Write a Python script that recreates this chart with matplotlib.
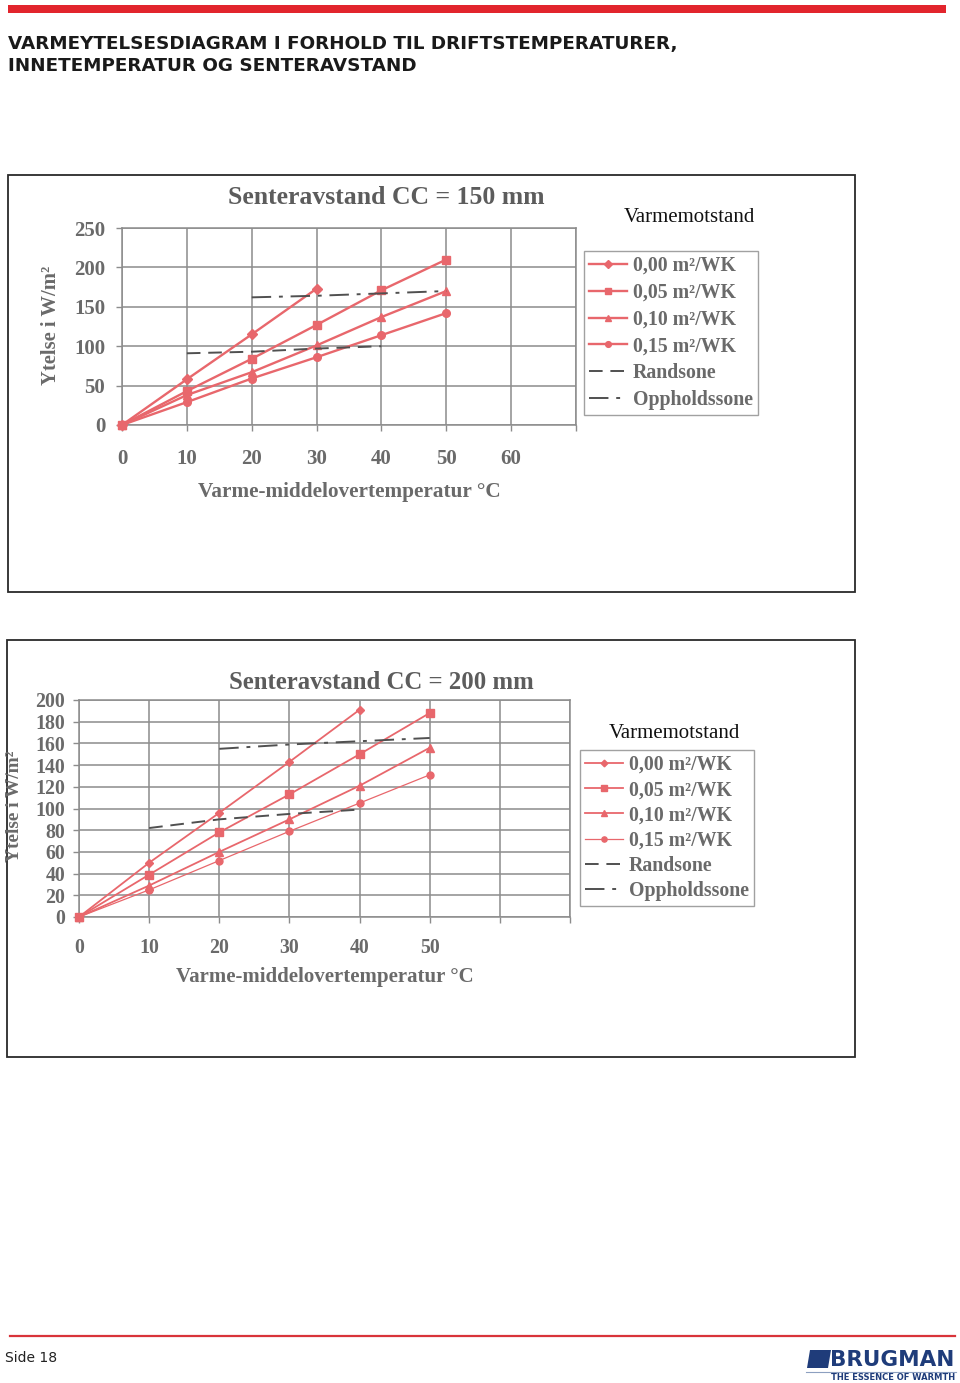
import matplotlib
matplotlib.use('Agg')
import matplotlib.pyplot as plt
from matplotlib.patches import Rectangle, Polygon
from matplotlib.lines import Line2D

plt.rcParams['font.family'] = ['Liberation Serif', 'DejaVu Serif']

W, H = 960, 1383

# ---------------- data ----------------
temps = [0, 10, 20, 30, 40, 50]
x_ticks = [0, 10, 20, 30, 40, 50, 60, 70]
rand_x = [10, 20, 30, 40]
opph_x = [20, 30, 40, 50]
legend_labels = ['0,00 m²/WK', '0,05 m²/WK', '0,10 m²/WK', '0,15 m²/WK',
                 'Randsone', 'Oppholdssone']

cc150_r000 = [0, 58, 115, 173]
cc150_r005 = [0, 43, 84, 127, 171, 210]
cc150_r010 = [0, 38, 67, 101, 137, 170]
cc150_r015 = [0, 29, 59, 86, 114, 142]
cc150_rand = [91, 93, 97, 100]
cc150_opph = [162, 164, 167, 170]
cc150_yticks = [0, 50, 100, 150, 200, 250]
cc150_xlabels = ['0', '10', '20', '30', '40', '50', '60', '']

cc200_r000 = [0, 50, 96, 143, 191]
cc200_r005 = [0, 39, 78, 113, 150, 188]
cc200_r010 = [0, 29, 60, 90, 121, 156]
cc200_r015 = [0, 25, 52, 79, 105, 131]
cc200_rand = [82, 90, 95, 99]
cc200_opph = [155, 159, 162, 165]
cc200_yticks = [0, 20, 40, 60, 80, 100, 120, 140, 160, 180, 200]
cc200_xlabels = ['0', '10', '20', '30', '40', '50', '', '']

RED = '#E8676C'
GRID = '#8C8C8C'
TXT = '#6A6A6A'
TTL = '#5C5C5C'
DARK = '#505050'


def fx(px):
    return px / W


def fy(py):
    return 1 - py / H


def rect(l, t, r, b):
    return [fx(l), fy(b), (r - l) / W, (b - t) / H]


fig = plt.figure(figsize=(W / 100, H / 100), dpi=100)

# header band / title
fig.patches.append(Rectangle((fx(8), fy(13)), (946 - 8) / W, 8 / H,
                             transform=fig.transFigure, facecolor='#E2252D',
                             edgecolor='none'))
fig.text(fx(8), fy(44), 'VARMEYTELSESDIAGRAM I FORHOLD TIL DRIFTSTEMPERATURER,',
         family=['DejaVu Sans'], weight='bold', fontsize=13.2, color='#1a1a1a',
         va='center', ha='left')
fig.text(fx(8), fy(66), 'INNETEMPERATUR OG SENTERAVSTAND',
         family=['DejaVu Sans'], weight='bold', fontsize=13.2, color='#1a1a1a',
         va='center', ha='left')


def draw_chart(frame, axbox, ymax, yticks, xlabels, series, rand, opph,
               title, title_xy, title_fs, ylab_xy, ylab_fs, xlab_xy, xlab_fs,
               tick_fs, xpad, ypad, leg_anchor, leg_title_xy, lws, msz,
               rand_dash, opph_dash, labelspacing):
    l, t, r, b = frame
    fig.patches.append(Rectangle((fx(l), fy(b)), (r - l) / W, (b - t) / H,
                                 transform=fig.transFigure, facecolor='none',
                                 edgecolor='#2a2a2a', linewidth=1.3))
    ax = fig.add_axes(rect(*axbox))
    ax.set_xlim(0, 70)
    ax.set_ylim(0, ymax)
    ax.set_xticks(x_ticks)
    ax.set_xticklabels(xlabels)
    ax.set_yticks(yticks)
    ax.grid(True, color=GRID, linewidth=1.1)
    ax.set_axisbelow(True)
    for s in ax.spines.values():
        s.set_color(GRID)
        s.set_linewidth(1.1)
    ax.tick_params(direction='out', length=4, width=1.0, color=GRID,
                   labelsize=tick_fs, labelcolor=TXT)
    ax.tick_params(axis='x', pad=xpad)
    ax.tick_params(axis='y', pad=ypad)
    for lab in ax.get_xticklabels() + ax.get_yticklabels():
        lab.set_fontweight('bold')

    markers = ['D', 's', '^', 'o']
    handles = []
    for vals, mk, lw, ms in zip(series, markers, lws, msz):
        h, = ax.plot(temps[:len(vals)], vals, color=RED, linewidth=lw,
                     marker=mk, markersize=ms, markerfacecolor=RED,
                     markeredgecolor=RED, clip_on=False, zorder=3)
        handles.append(h)
    h, = ax.plot(rand_x, rand, color=DARK, linewidth=1.4, zorder=4)
    h.set_dashes(rand_dash)
    handles.append(h)
    h, = ax.plot(opph_x, opph, color=DARK, linewidth=1.4, zorder=4)
    h.set_dashes(opph_dash)
    handles.append(h)

    fig.text(fx(title_xy[0]), fy(title_xy[1]), title, fontsize=title_fs,
             weight='bold', color=TTL, ha='center', va='center')
    fig.text(fx(ylab_xy[0]), fy(ylab_xy[1]), 'Ytelse i W/m²', fontsize=ylab_fs,
             weight='bold', color=TXT, ha='center', va='center', rotation=90)
    fig.text(fx(xlab_xy[0]), fy(xlab_xy[1]), 'Varme-middelovertemperatur °C',
             fontsize=xlab_fs, weight='bold', color=TXT, ha='center',
             va='center')
    fig.text(fx(leg_title_xy[0]), fy(leg_title_xy[1]), 'Varmemotstand',
             fontsize=15, color='#111111', ha='center', va='center')
    leg = ax.legend(handles, legend_labels, loc='upper left',
                    bbox_to_anchor=(fx(leg_anchor[0]), fy(leg_anchor[1])),
                    bbox_transform=fig.transFigure, borderaxespad=0,
                    frameon=True, fancybox=False, handlelength=1.9,
                    handletextpad=0.3, borderpad=0.25,
                    labelspacing=labelspacing, markerscale=0.75,
                    prop={'weight': 'bold', 'size': 14.3}, labelcolor=TXT)
    leg.get_frame().set_edgecolor('#8a8a8a')
    leg.get_frame().set_linewidth(1.0)
    return ax


draw_chart(frame=(8, 175, 855, 592), axbox=(122, 228, 576, 425), ymax=250,
           yticks=cc150_yticks, xlabels=cc150_xlabels,
           series=[cc150_r000, cc150_r005, cc150_r010, cc150_r015],
           rand=cc150_rand, opph=cc150_opph,
           title='Senteravstand CC = 150 mm', title_xy=(386, 198), title_fs=18.5,
           ylab_xy=(51, 325), ylab_fs=14.9, xlab_xy=(349, 492), xlab_fs=15.3,
           tick_fs=15, xpad=13, ypad=8, leg_anchor=(584, 251),
           leg_title_xy=(689, 218), lws=[1.7, 1.7, 1.7, 1.7],
           msz=[5, 5.5, 6, 5.5], rand_dash=(7, 4), opph_dash=(10, 4, 2, 4),
           labelspacing=0.34)

draw_chart(frame=(7, 640, 855, 1057), axbox=(79, 700, 570, 917), ymax=200,
           yticks=cc200_yticks, xlabels=cc200_xlabels,
           series=[cc200_r000, cc200_r005, cc200_r010, cc200_r015],
           rand=cc200_rand, opph=cc200_opph,
           title='Senteravstand CC = 200 mm', title_xy=(381, 682), title_fs=17.8,
           ylab_xy=(15, 806), ylab_fs=13.9, xlab_xy=(325, 977), xlab_fs=15,
           tick_fs=14.3, xpad=11, ypad=6, leg_anchor=(580, 750),
           leg_title_xy=(674, 734), lws=[1.3, 1.3, 1.3, 0.9],
           msz=[4.5, 5.5, 5.5, 5], rand_dash=(7, 4), opph_dash=(10, 4, 2, 4),
           labelspacing=0.26)

# footer
fig.add_artist(Line2D([fx(10), fx(955)], [fy(1336), fy(1336)],
                      transform=fig.transFigure, color='#D9343A', linewidth=1.6))
fig.text(fx(5), fy(1358), 'Side 18', family=['DejaVu Sans'], fontsize=10,
         color='#222222', ha='left', va='center')
fig.patches.append(Polygon([(fx(807), fy(1368)), (fx(810), fy(1350)),
                            (fx(831), fy(1350)), (fx(828), fy(1368))],
                           closed=True, transform=fig.transFigure,
                           facecolor='#1F3C7A', edgecolor='none'))
fig.text(fx(954), fy(1360), 'BRUGMAN', family=['DejaVu Sans'], weight='bold',
         fontsize=15.5, color='#1F3C7A', ha='right', va='center')
fig.add_artist(Line2D([fx(806), fx(956)], [fy(1371.5), fy(1371.5)],
                      transform=fig.transFigure, color='#8DA0C0', linewidth=0.8))
fig.text(fx(955), fy(1377.5), 'THE ESSENCE OF WARMTH', family=['DejaVu Sans'],
         weight='bold', fontsize=6, color='#1F3C7A', ha='right', va='center')

fig.savefig('out.png', dpi=100)
